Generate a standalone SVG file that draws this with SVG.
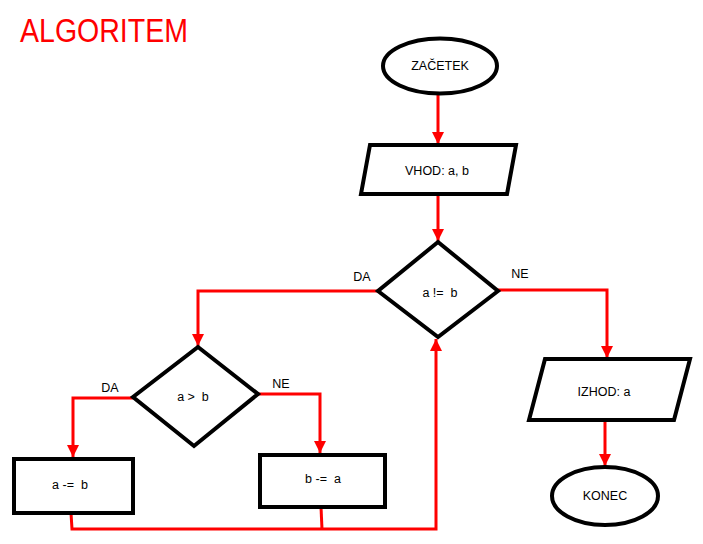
<svg xmlns="http://www.w3.org/2000/svg" width="703" height="544" viewBox="0 0 703 544">
<style>
.shape{fill:#fff;stroke:#000;stroke-width:4;stroke-linejoin:miter}
.lbl{font-family:"Liberation Sans",Arial,sans-serif;font-size:12.5px;fill:#000;text-anchor:middle;white-space:pre}
.conn{fill:none;stroke:#ff0000;stroke-width:3}
.title{font-family:"Liberation Sans",Arial,sans-serif;font-size:33px;fill:#ff0000}
</style>
<defs>
<marker id="arr" markerUnits="userSpaceOnUse" markerWidth="12" markerHeight="12" viewBox="0 0 12 12" refX="12" refY="6" orient="auto">
<path d="M0,0 L12,6 L0,12 z" fill="#ff0000"/>
</marker>
</defs>
<rect width="703" height="544" fill="#fff"/>
<text class="title" x="20" y="42" textLength="168" lengthAdjust="spacingAndGlyphs">ALGORITEM</text>
<g id="connectors">
<path class="conn" d="M438,94 L438,144" marker-end="url(#arr)"/>
<path class="conn" d="M438,194 L438,241" marker-end="url(#arr)"/>
<path class="conn" d="M378,291 L198,291 L198,346" marker-end="url(#arr)"/>
<path class="conn" d="M498,290 L607,290 L607,358" marker-end="url(#arr)"/>
<path class="conn" d="M133,398 L73,398 L73,457" marker-end="url(#arr)"/>
<path class="conn" d="M258,394 L320,394 L320,453" marker-end="url(#arr)"/>
<path class="conn" d="M71,513 L72,529 L436,529 L436,339" marker-end="url(#arr)"/>
<path class="conn" d="M321,507 L322,529"/>
<path class="conn" d="M605,420 L605,466" marker-end="url(#arr)"/>
<text class="lbl" x="362" y="281">DA</text>
<text class="lbl" x="520" y="278">NE</text>
<text class="lbl" x="110" y="392">DA</text>
<text class="lbl" x="281" y="388">NE</text>
</g>
<g id="start">
<ellipse class="shape" cx="440" cy="66" rx="57" ry="27.5"/>
<text class="lbl" x="440" y="70">ZAČETEK</text>
</g>
<g id="input">
<polygon class="shape" points="370,145 516,145 507,194 361,194"/>
<text class="lbl" x="437" y="175">VHOD: a, b</text>
</g>
<g id="cond1">
<polygon class="shape" points="438,242 498,291 438,337 378,291"/>
<text class="lbl" x="440" y="297" xml:space="preserve">a !=  b</text>
</g>
<g id="cond2">
<polygon class="shape" points="198,347 258,394 194,446 133,397"/>
<text class="lbl" x="193" y="401" xml:space="preserve">a &gt;  b</text>
</g>
<g id="sub_a">
<rect class="shape" x="14" y="459" width="119" height="54"/>
<text class="lbl" x="70" y="489" xml:space="preserve">a -=  b</text>
</g>
<g id="sub_b">
<rect class="shape" x="260" y="455" width="125" height="52"/>
<text class="lbl" x="323" y="483" xml:space="preserve">b -=  a</text>
</g>
<g id="output">
<polygon class="shape" points="545,359 690,359 674,420 529,420"/>
<text class="lbl" x="604" y="396">IZHOD: a</text>
</g>
<g id="end">
<ellipse class="shape" cx="605" cy="496" rx="53" ry="29"/>
<text class="lbl" x="605" y="500">KONEC</text>
</g>
</svg>
